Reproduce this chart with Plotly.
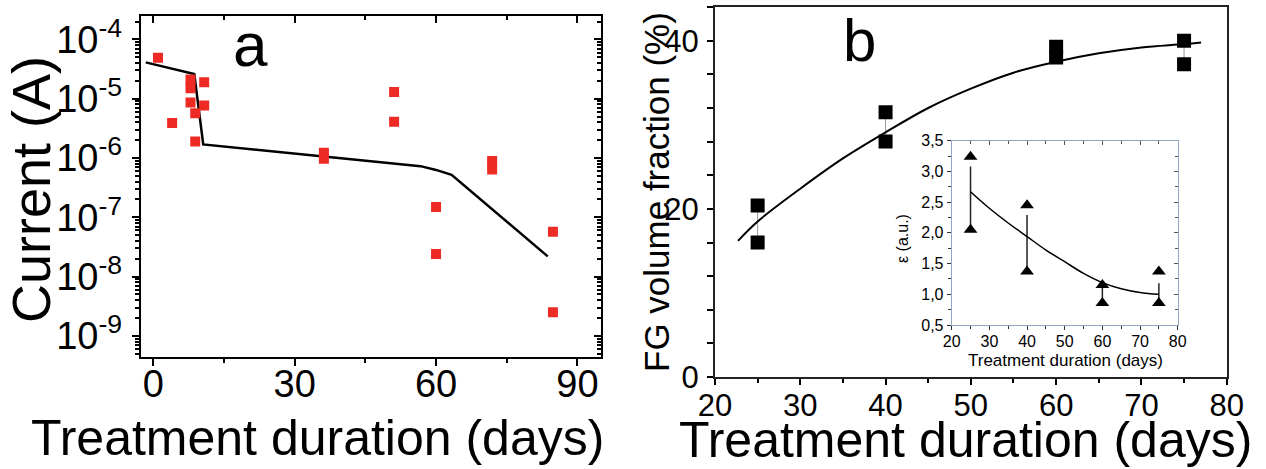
import plotly.graph_objects as go

W, H = 1266, 469
FONT = "Liberation Sans, Arial, sans-serif"

# ---- panel a: current vs treatment duration (log scale) ----
a_days = [1.0, 4.0, 7.9, 7.9, 7.9, 8.9, 8.9, 10.8, 10.8, 36.2, 36.2, 51.1, 51.1,
          60.0, 60.0, 71.9, 71.9, 84.8, 84.8]
a_current = [4.9e-5, 3.9e-6, 2.1e-5, 1.5e-5, 8.6e-6, 5.7e-6, 1.9e-6, 1.9e-5, 7.7e-6,
             1.23e-6, 9.7e-7, 1.3e-5, 4.1e-6, 1.5e-7, 2.4e-8, 8.9e-7, 6.4e-7,
             5.7e-8, 2.5e-9]
a_trend_days = [-1.6, 8.7, 10.6, 56.7, 60.0, 63.3, 83.7]
a_trend_current = [4.1e-5, 2.6e-5, 1.7e-6, 7.3e-7, 6.3e-7, 5.2e-7, 2.2e-8]
a_tick_vals = [1e-9, 1e-8, 1e-7, 1e-6, 1e-5, 1e-4]
a_tick_text = ["10<sup>-9</sup>", "10<sup>-8</sup>", "10<sup>-7</sup>",
               "10<sup>-6</sup>", "10<sup>-5</sup>", "10<sup>-4</sup>"]

# ---- panel b: FG volume fraction ----
b_days = [25, 25, 40, 40, 60, 60, 75, 75]
b_fraction = [20.4, 16.0, 31.5, 28.0, 39.3, 38.0, 40.0, 37.2]
b_fit_days = [22.7, 25, 30, 35, 40, 45, 50, 55, 60, 65, 70, 75, 77]
b_fit_fraction = [16.2, 18.5, 22.4, 26.0, 29.1, 32.0, 34.3, 36.2, 37.5, 38.5, 39.2, 39.6, 39.8]

# ---- inset: epsilon ----
e_days = [25, 25, 40, 40, 60, 60, 75, 75]
e_eps = [3.24, 2.05, 2.45, 1.37, 1.15, 0.86, 1.37, 0.86]
e_bar_lo = [2.05, 1.37, 0.86, 0.86]
e_bar_hi = [3.08, 2.29, 1.15, 1.18]
e_bar_days = [25, 40, 60, 75]
e_fit_days = [25, 30, 35, 40, 45, 50, 55, 60, 65, 70, 75]
e_fit_eps = [2.67, 2.40, 2.16, 1.94, 1.72, 1.53, 1.34, 1.19, 1.09, 1.03, 1.0]
e_tick_vals = [0.5, 1.0, 1.5, 2.0, 2.5, 3.0, 3.5]
e_tick_text = ["0,5", "1,0", "1,5", "2,0", "2,5", "3,0", "3,5"]


def px(x):
    return x / W


def py(y):
    return 1 - y / H


def segments(xs, lo, hi):
    sx, sy = [], []
    for x, a, b in zip(xs, lo, hi):
        sx += [x, x, None]
        sy += [a, b, None]
    return sx, sy


fig = go.Figure()

# panel a
fig.add_trace(go.Scatter(x=a_trend_days, y=a_trend_current, mode="lines",
                         line=dict(color="black", width=2.5), xaxis="x", yaxis="y"))
fig.add_trace(go.Scatter(x=a_days, y=a_current, mode="markers",
                         marker=dict(symbol="square", size=10, color="#ee2a24"),
                         xaxis="x", yaxis="y"))
fig.add_trace(go.Scatter(x=[None], y=[None], xaxis="x2", yaxis="y2"))

# panel b
pair_x = [25, 40, 60, 75]
bx, by = segments(pair_x, [b_fraction[i] for i in (1, 3, 5, 7)],
                  [b_fraction[i] for i in (0, 2, 4, 6)])
fig.add_trace(go.Scatter(x=bx, y=by, mode="lines", line=dict(color="#9a9a9a", width=1),
                         xaxis="x3", yaxis="y3"))
fig.add_trace(go.Scatter(x=b_fit_days, y=b_fit_fraction, mode="lines", line_shape="spline",
                         line=dict(color="black", width=2), xaxis="x3", yaxis="y3"))
fig.add_trace(go.Scatter(x=b_days, y=b_fraction, mode="markers",
                         marker=dict(symbol="square", size=14, color="black"),
                         xaxis="x3", yaxis="y3"))

# inset
ex, ey = segments(e_bar_days, e_bar_lo, e_bar_hi)
fig.add_trace(go.Scatter(x=ex, y=ey, mode="lines", line=dict(color="#222", width=1.5),
                         xaxis="x4", yaxis="y4"))
fig.add_trace(go.Scatter(x=e_fit_days, y=e_fit_eps, mode="lines", line_shape="spline",
                         line=dict(color="black", width=1.5), xaxis="x4", yaxis="y4"))
fig.add_trace(go.Scatter(x=e_days, y=e_eps, mode="markers",
                         marker=dict(symbol="triangle-up", size=12, color="black"),
                         xaxis="x4", yaxis="y4"))
fig.add_trace(go.Scatter(x=[None], y=[None], xaxis="x5", yaxis="y5"))

a_dom_x = [px(140.7), px(601)]
a_dom_y = [py(356.7), py(16.3)]
a_xr = [-2.67, 95]
a_yr = [-9.35, -3.61]
a_minor_y = [m * 10 ** e for e in range(-10, -3) for m in range(2, 10)]

b_dom_x = [px(715), px(1226.7)]
b_dom_y = [py(377), py(6.7)]

i_dom_x = [px(951.7), px(1177.7)]
i_dom_y = [py(325), py(140.7)]

common = dict(showgrid=False, zeroline=False, automargin=False)

fig.update_layout(
    template="none",
    width=W, height=H, margin=dict(l=0, r=0, t=0, b=0, pad=0),
    paper_bgcolor="white", plot_bgcolor="white", showlegend=False,
    font=dict(family=FONT, color="black"),
    xaxis=dict(domain=a_dom_x, anchor="y", range=a_xr, tickvals=[0, 30, 60, 90],
               ticks="outside", ticklen=7, tickwidth=2, tickcolor="black",
               showline=True, linewidth=2, linecolor="black", mirror=True,
               tickfont=dict(size=38), ticklabelstandoff=-14,
               minor=dict(tickvals=[15, 45, 75], ticks="outside", ticklen=4,
                          tickwidth=2, tickcolor="black"), **common),
    yaxis=dict(domain=a_dom_y, anchor="x", type="log", range=a_yr,
               tickvals=a_tick_vals, ticktext=a_tick_text,
               ticks="outside", ticklen=7, tickwidth=2, tickcolor="black",
               showline=True, linewidth=2, linecolor="black", mirror=True,
               tickfont=dict(size=38), ticklabelstandoff=2,
               minor=dict(tickvals=a_minor_y, ticks="outside", ticklen=4,
                          tickwidth=1.5, tickcolor="black"), **common),
    xaxis2=dict(overlaying="x", anchor="y2", side="top", range=a_xr,
                tickvals=[0, 30, 60, 90], ticks="inside", ticklen=7, tickwidth=2,
                tickcolor="black", showticklabels=False, showline=False,
                minor=dict(tickvals=[15, 45, 75], ticks="inside", ticklen=4,
                           tickwidth=2, tickcolor="black"), **common),
    yaxis2=dict(overlaying="y", anchor="x2", side="right", type="log", range=a_yr,
                tickvals=a_tick_vals, ticks="inside", ticklen=7, tickwidth=2,
                tickcolor="black", showticklabels=False, showline=False,
                minor=dict(tickvals=a_minor_y, ticks="inside", ticklen=4,
                           tickwidth=1.5, tickcolor="black"), **common),
    xaxis3=dict(domain=b_dom_x, anchor="y3", range=[20, 80], tickvals=[20, 30, 40, 50, 60, 70, 80],
                ticks="outside", ticklen=6, tickwidth=1.5, tickcolor="black",
                showline=True, linewidth=2, linecolor="#222", mirror=True,
                tickfont=dict(size=31), ticklabelstandoff=-6,
                minor=dict(tickvals=[25, 35, 45, 55, 65, 75], ticks="outside", ticklen=4,
                           tickwidth=1.5, tickcolor="black"), **common),
    yaxis3=dict(domain=b_dom_y, anchor="x3", range=[0, 44.05], tickvals=[0, 20, 40],
                ticks="outside", ticklen=6, tickwidth=1.5, tickcolor="black",
                showline=True, linewidth=2, linecolor="#222", mirror=True,
                tickfont=dict(size=31), ticklabelstandoff=2,
                minor=dict(tickvals=[4, 8, 12, 16, 24, 28, 32, 36, 44], ticks="outside",
                           ticklen=6, tickwidth=1.5, tickcolor="black"), **common),
    xaxis4=dict(domain=i_dom_x, anchor="y4", range=[20, 80],
                tickvals=[20, 30, 40, 50, 60, 70, 80],
                ticks="outside", ticklen=4, tickwidth=1, tickcolor="#333",
                showline=True, linewidth=1, linecolor="#8ea6c4", mirror=True,
                tickfont=dict(size=16), ticklabelstandoff=-2,
                minor=dict(tickvals=[25, 35, 45, 55, 65, 75], ticks="outside", ticklen=3,
                           tickwidth=1, tickcolor="#333"), **common),
    yaxis4=dict(domain=i_dom_y, anchor="x4", range=[0.5, 3.5],
                tickvals=e_tick_vals, ticktext=e_tick_text,
                ticks="outside", ticklen=4, tickwidth=1, tickcolor="#333",
                showline=True, linewidth=1, linecolor="#8ea6c4", mirror=True,
                tickfont=dict(size=16), ticklabelstandoff=0,
                minor=dict(tickvals=[0.75, 1.25, 1.75, 2.25, 2.75, 3.25], ticks="outside",
                           ticklen=3, tickwidth=1, tickcolor="#333"), **common),
    xaxis5=dict(overlaying="x4", anchor="y5", side="top", range=[20, 80],
                tickvals=[20, 30, 40, 50, 60, 70, 80], ticks="inside", ticklen=4,
                tickwidth=1, tickcolor="#555", showticklabels=False, showline=False,
                minor=dict(tickvals=[25, 35, 45, 55, 65, 75], ticks="inside", ticklen=3,
                           tickwidth=1, tickcolor="#555"), **common),
    yaxis5=dict(overlaying="y4", anchor="x5", side="right", range=[0.5, 3.5],
                tickvals=e_tick_vals, ticks="inside", ticklen=4, tickwidth=1,
                tickcolor="#555", showticklabels=False, showline=False,
                minor=dict(tickvals=[0.75, 1.25, 1.75, 2.25, 2.75, 3.25], ticks="inside",
                           ticklen=3, tickwidth=1, tickcolor="#555"), **common),
)

ann = dict(xref="paper", yref="paper", showarrow=False, xanchor="center", yanchor="middle")
fig.add_annotation(text="Current (A)", x=px(31), y=py(190), textangle=-90,
                   font=dict(size=54), **ann)
fig.add_annotation(text="Treatment duration (days)", x=px(317), y=py(438),
                   font=dict(size=50), **ann)
fig.add_annotation(text="a", x=px(250), y=py(44), font=dict(size=62), **ann)
fig.add_annotation(text="FG volume fraction (%)", x=px(656), y=py(192), textangle=-90,
                   font=dict(size=35), **ann)
fig.add_annotation(text="Treatment duration (days)", x=px(965), y=py(440),
                   font=dict(size=50), **ann)
fig.add_annotation(text="b", x=px(860), y=py(40), font=dict(size=60), **ann)
fig.add_annotation(text="ε (a.u.)", x=px(902), y=py(238), textangle=-90,
                   font=dict(size=16), **ann)
fig.add_annotation(text="Treatment duration (days)", x=px(1065), y=py(360),
                   font=dict(size=17), **ann)

fig.write_html("out.html")
